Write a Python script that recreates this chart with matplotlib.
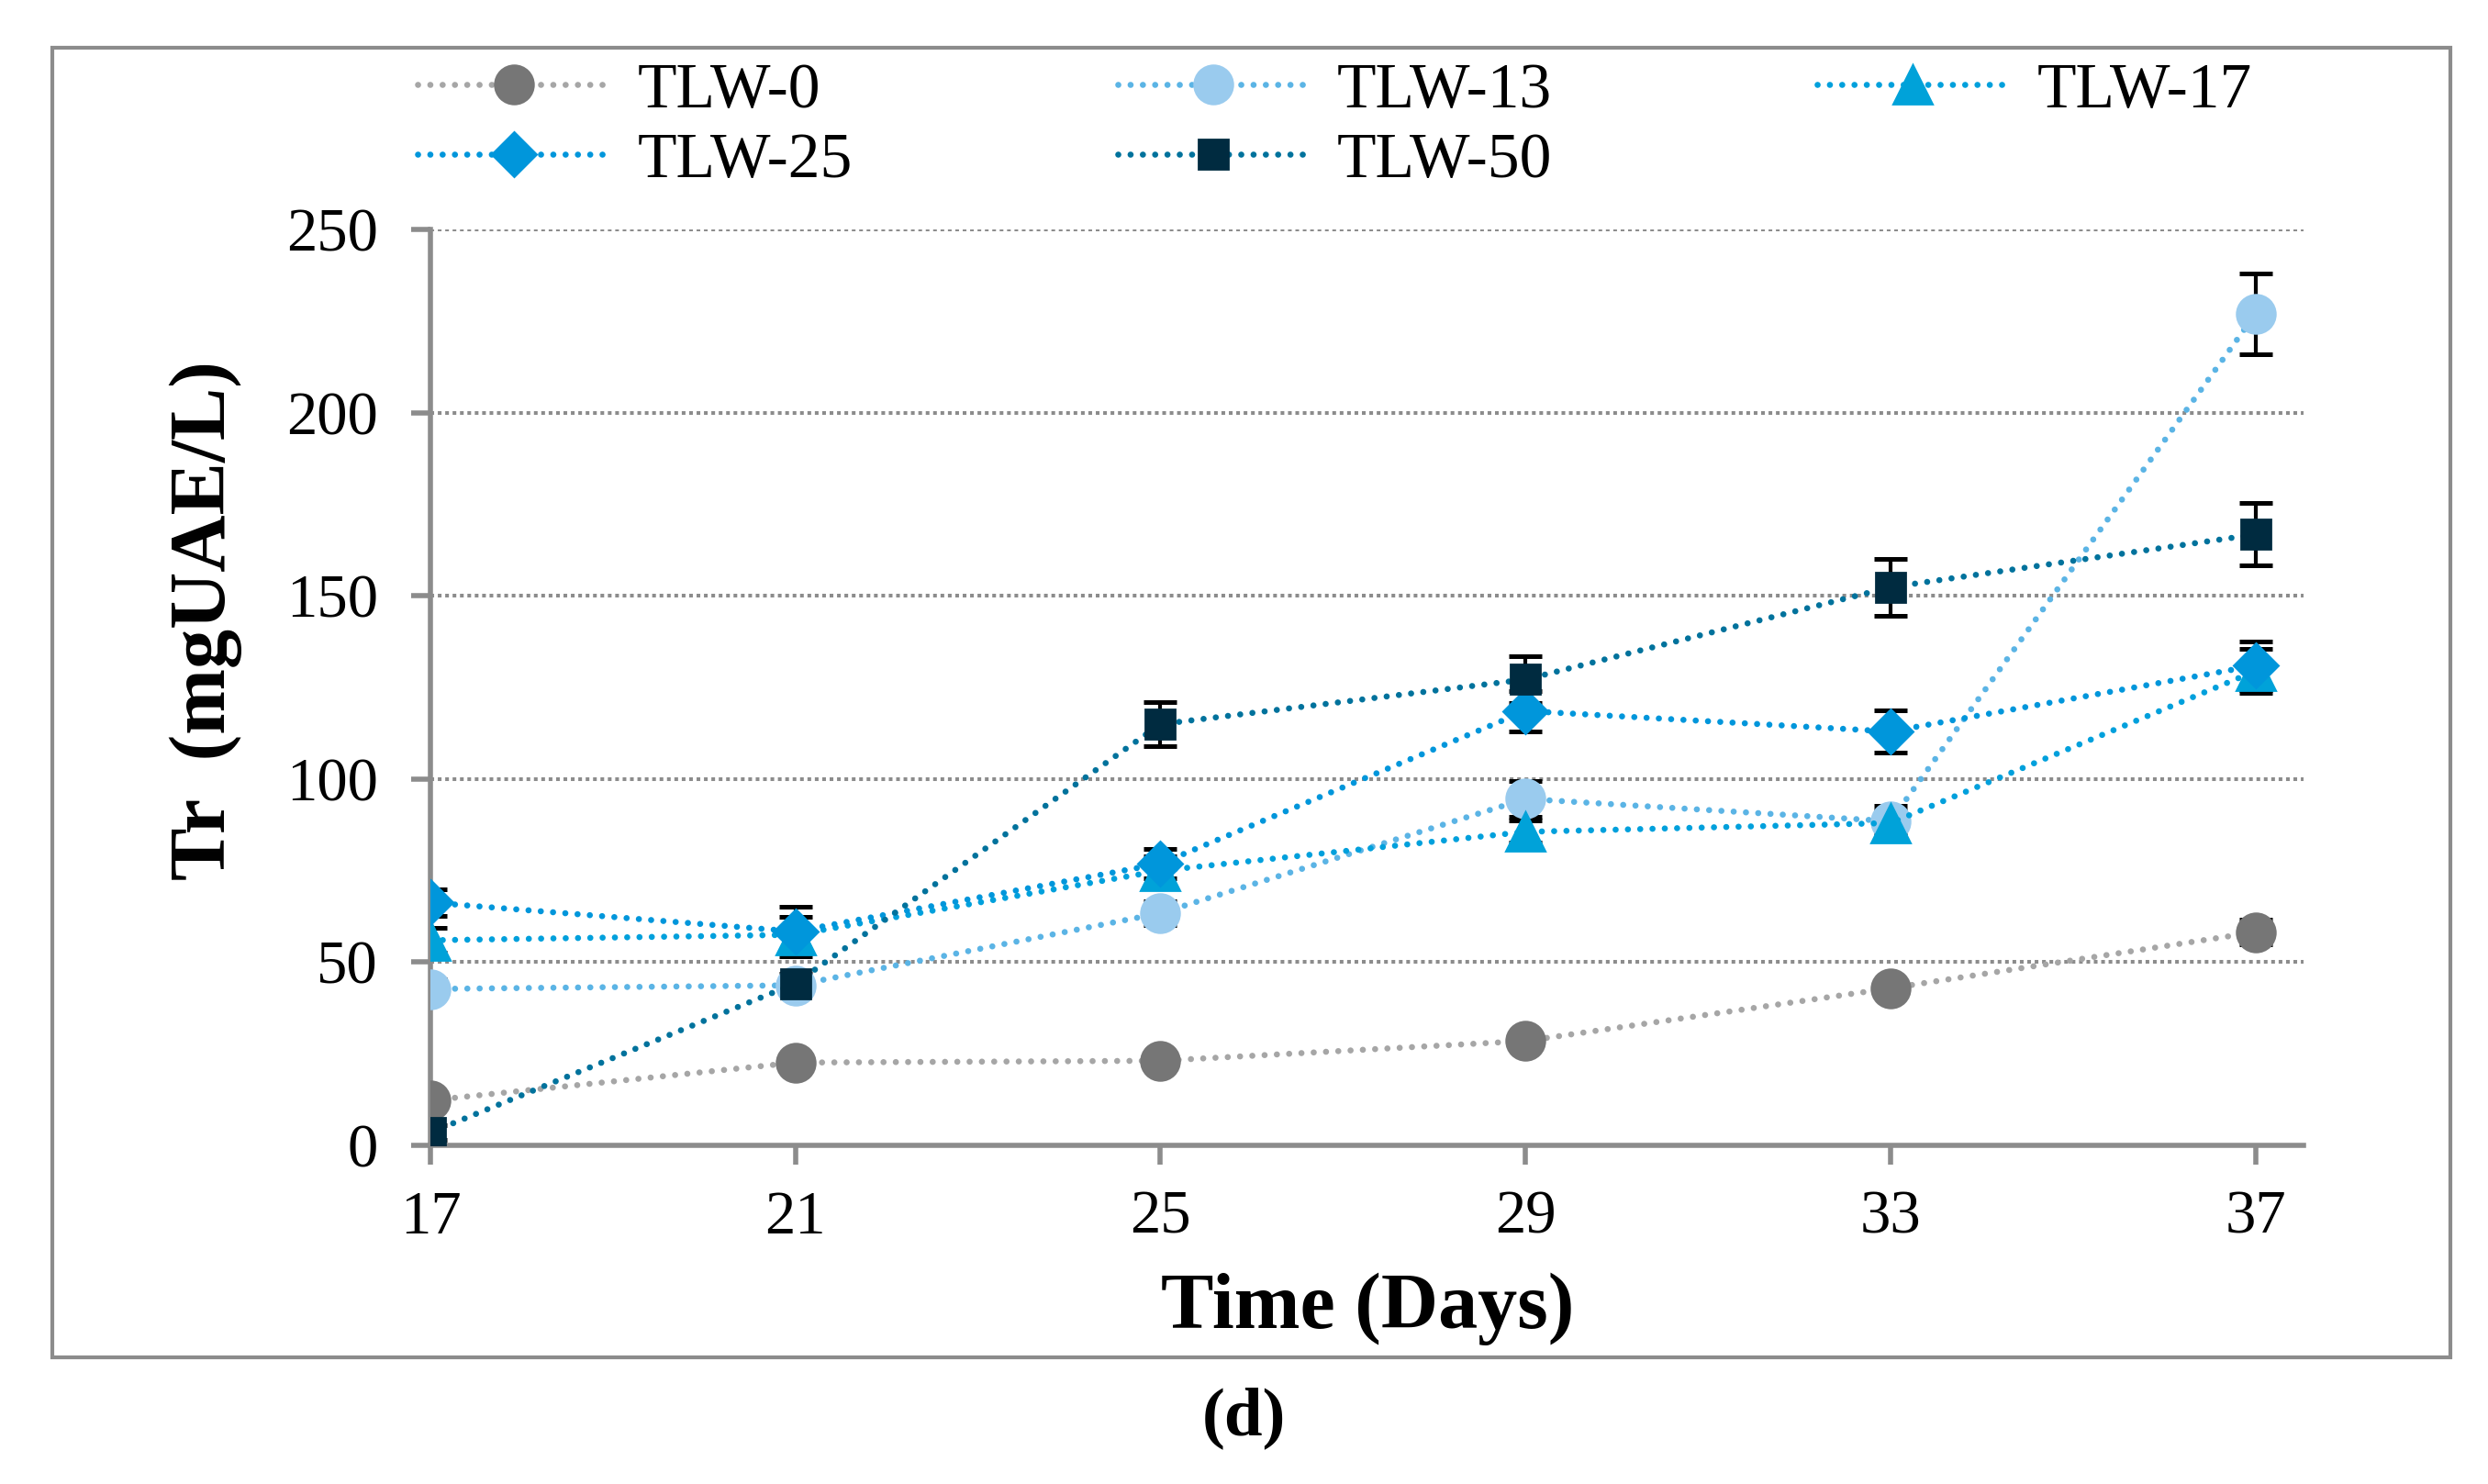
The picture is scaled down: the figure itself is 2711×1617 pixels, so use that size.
"""
Tr (mgUAE/L) over time for the TLW treatments, panel (d)
"""

import matplotlib
matplotlib.use("Agg")
import matplotlib.pyplot as plt
from matplotlib.patches import Rectangle

plt.rcParams["font.family"] = ["Liberation Serif", "DejaVu Serif"]

# ─────────────────────────────────────────────
# Data
# ─────────────────────────────────────────────
days = [17, 21, 25, 29, 33, 37]
series_names = ["TLW-0", "TLW-13", "TLW-17", "TLW-25", "TLW-50"]

tlw0  = [12.3, 22.6, 23.1, 28.5, 42.9, 58.2]
tlw13 = [42.7, 43.7, 63.4, 94.6, 88.5, 227.0]
tlw17 = [56.0, 57.5, 75.0, 85.6, 88.0, 129.5]
tlw25 = [66.3, 58.4, 76.9, 118.6, 113.0, 131.0]
tlw50 = [3.5, 44.2, 115.0, 127.2, 152.4, 166.8]

err0  = [1.5, 1.5, 1.5, 1.5, 2.0, 3.4]
err13 = [2.7, 2.5, 3.3, 5.0, 3.0, 11.0]
err17 = [3.4, 5.0, 4.0, 3.0, 4.8, 6.0]
err25 = [3.6, 6.7, 4.0, 5.5, 5.7, 6.6]
err50 = [2.0, 2.6, 6.0, 6.4, 7.7, 8.5]

values = [tlw0, tlw13, tlw17, tlw25, tlw50]
errors = [err0, err13, err17, err25, err50]

line_colors   = ["#A6A6A6", "#5BB4E5", "#00A0DC", "#0096DB", "#00729C"]
marker_colors = ["#767676", "#9ACBEE", "#00A2D9", "#0096DB", "#002B40"]
markers       = ["o", "o", "^", "D", "s"]
marker_sizes  = [15.0, 15.0, 15.0, 12.0, 11.5]

y_ticks = [0, 50, 100, 150, 200, 250]

# ─────────────────────────────────────────────
# Figure
# ─────────────────────────────────────────────
fig = plt.figure(figsize=(13.555, 8.085), dpi=200)
ax = fig.add_axes([0.173, 0.2282, 0.753, 0.617])

axis_gray = "#8C8C8C"
dot_style = (0, (0.01, 2.0))

handles = []
for i, name in enumerate(series_names):
    ax.errorbar(days, values[i], yerr=errors[i], fmt="none",
                ecolor="black", elinewidth=1.5, capsize=6.5, capthick=1.8,
                zorder=3 + i * 0.1)
    h, = ax.plot(days, values[i], linestyle=dot_style, dash_capstyle="round",
                 linewidth=2.4, color=line_colors[i],
                 marker=markers[i], markersize=marker_sizes[i],
                 markerfacecolor=marker_colors[i], markeredgecolor=marker_colors[i],
                 label=name, zorder=4 + i * 0.1)
    handles.append(h)

ax.set_xlim(17, 37.53)
ax.set_ylim(0, 250)
ax.set_xticks(days)
ax.set_xticklabels([str(d) for d in days])
ax.set_yticks(y_ticks)

ax.yaxis.grid(True, color=axis_gray, linewidth=1.45, linestyle=(0, (1, 1)))
ax.set_axisbelow(True)

for side in ["top", "right"]:
    ax.spines[side].set_visible(False)
for side in ["left", "bottom"]:
    ax.spines[side].set_color(axis_gray)
    ax.spines[side].set_linewidth(2.0)

ax.tick_params(axis="both", direction="out", length=7.5, width=2.0,
               color=axis_gray, labelsize=24)
ax.tick_params(axis="x", pad=10)
ax.tick_params(axis="y", pad=13)

ax.set_xlabel("Time (Days)", fontsize=31, fontweight="bold")
ax.xaxis.label.set_va("center")
ax.xaxis.set_label_coords(0.5, -0.179)

ax.set_ylabel("Tr  (mgUAE/L)", fontsize=31, fontweight="bold")
ax.yaxis.label.set_va("center")
ax.yaxis.set_label_coords(-0.120, 0.573)

# legend: 3 columns, row-wise order like the original
order = [0, 3, 1, 4, 2]
fig.legend([handles[k] for k in order], [series_names[k] for k in order],
           ncol=3, loc="upper left", bbox_to_anchor=(0.168, 0.958),
           frameon=False, fontsize=25, handlelength=3.0, handletextpad=0.45,
           columnspacing=4.15, labelspacing=0.18, borderpad=0, borderaxespad=0)

# outer chart border
fig.patches.append(Rectangle((57 / 2711, 1 - 1479 / 1617), (2670 - 57) / 2711,
                             (1479 - 52) / 1617, transform=fig.transFigure,
                             fill=False, edgecolor=axis_gray, linewidth=1.5))

fig.text(0.5, 1 - 1545 / 1617, "(d)", fontsize=27, fontweight="bold",
         ha="center", va="center")

plt.savefig("out.png", dpi=200)
plt.close()
